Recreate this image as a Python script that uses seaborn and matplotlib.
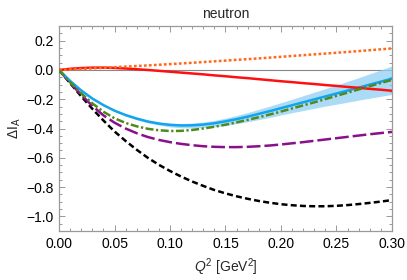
import numpy as np
import pandas as pd
import matplotlib
matplotlib.use("Agg")
import matplotlib.pyplot as plt
import seaborn as sns
from matplotlib.ticker import MultipleLocator

q2 = [0.00, 0.01, 0.02, 0.03, 0.04, 0.05, 0.06, 0.07, 0.08, 0.09, 0.10,
      0.11, 0.12, 0.13, 0.14, 0.15, 0.16, 0.17, 0.18, 0.19, 0.20,
      0.21, 0.22, 0.23, 0.24, 0.25, 0.26, 0.27, 0.28, 0.29, 0.30]

orange_dotted = [0.0, 0.0035, 0.007, 0.011, 0.015, 0.019, 0.023, 0.027, 0.031, 0.0355, 0.040,
                 0.0445, 0.049, 0.054, 0.059, 0.064, 0.069, 0.074, 0.079, 0.0845, 0.090,
                 0.0955, 0.101, 0.1065, 0.112, 0.1175, 0.123, 0.129, 0.135, 0.141, 0.147]
red_solid = [0.0, 0.008, 0.013, 0.016, 0.016, 0.014, 0.010, 0.005, 0.0, -0.006, -0.012,
             -0.018, -0.024, -0.030, -0.037, -0.043, -0.050, -0.056, -0.063, -0.070, -0.077,
             -0.083, -0.090, -0.096, -0.103, -0.109, -0.116, -0.122, -0.129, -0.135, -0.142]
blue_solid = [0.0, -0.075, -0.14, -0.195, -0.24, -0.278, -0.308, -0.332, -0.352, -0.366, -0.375,
              -0.379, -0.378, -0.373, -0.364, -0.351, -0.336, -0.319, -0.300, -0.281, -0.261,
              -0.241, -0.221, -0.201, -0.181, -0.161, -0.141, -0.121, -0.100, -0.080, -0.059]
blue_upper = [0.0, -0.074, -0.138, -0.192, -0.236, -0.273, -0.302, -0.325, -0.344, -0.357, -0.364,
              -0.366, -0.363, -0.356, -0.345, -0.329, -0.311, -0.291, -0.269, -0.247, -0.224,
              -0.200, -0.176, -0.152, -0.128, -0.103, -0.078, -0.053, -0.026, 0.000, 0.027]
blue_lower = [0.0, -0.076, -0.1425, -0.199, -0.245, -0.284, -0.3155, -0.341, -0.362, -0.377, -0.389,
              -0.395, -0.397, -0.394, -0.388, -0.379, -0.367, -0.354, -0.339, -0.324, -0.307,
              -0.292, -0.277, -0.262, -0.247, -0.234, -0.220, -0.206, -0.193, -0.180, -0.167]
green_dashdot = [0.0, -0.085, -0.16, -0.228, -0.285, -0.33, -0.362, -0.385, -0.402, -0.412, -0.417,
                 -0.416, -0.410, -0.400, -0.388, -0.374, -0.358, -0.341, -0.323, -0.304, -0.284,
                 -0.263, -0.242, -0.221, -0.199, -0.177, -0.155, -0.133, -0.111, -0.089, -0.068]
purple_longdash = [0.0, -0.088, -0.17, -0.245, -0.31, -0.36, -0.40, -0.432, -0.458, -0.478, -0.493,
                   -0.505, -0.514, -0.521, -0.525, -0.527, -0.527, -0.525, -0.521, -0.516, -0.509,
                   -0.501, -0.493, -0.484, -0.475, -0.466, -0.457, -0.448, -0.439, -0.431, -0.423]
black_dashed = [0.0, -0.09, -0.18, -0.265, -0.345, -0.42, -0.485, -0.545, -0.60, -0.648, -0.69,
                -0.728, -0.762, -0.792, -0.82, -0.843, -0.863, -0.88, -0.895, -0.907, -0.917,
                -0.924, -0.929, -0.931, -0.931, -0.928, -0.923, -0.916, -0.908, -0.899, -0.889]

x_ticks = [0.00, 0.05, 0.10, 0.15, 0.20, 0.25, 0.30]
y_ticks = [-1.0, -0.8, -0.6, -0.4, -0.2, 0.0, 0.2]

sns.set_style("ticks")
plt.rcParams['font.family'] = ['Liberation Sans', 'DejaVu Sans']
plt.rcParams['mathtext.fontset'] = 'custom'
plt.rcParams['mathtext.rm'] = 'Liberation Sans'
plt.rcParams['mathtext.it'] = 'Liberation Sans:italic'

df = pd.DataFrame({
    "q2": q2, "orange": orange_dotted, "red": red_solid, "blue": blue_solid,
    "lo": blue_lower, "hi": blue_upper, "green": green_dashdot,
    "purple": purple_longdash, "black": black_dashed,
})

fig = plt.figure(figsize=(4.07, 2.80), dpi=100)
ax = fig.add_axes([0.145, 0.175, 0.818, 0.732])

ax.axhline(0, color="#888888", lw=0.8, zorder=1)
ax.fill_between(df["q2"], df["lo"], df["hi"], color="#8fd0f5", alpha=0.75, lw=0, zorder=2)

lw = 1.8
sns.lineplot(data=df, x="q2", y="black", ax=ax, color="black", lw=lw, zorder=3)
ax.lines[-1].set_dashes([2.4, 1.3])
sns.lineplot(data=df, x="q2", y="purple", ax=ax, color="#8a0f8a", lw=lw, zorder=3)
ax.lines[-1].set_dashes([5.5, 1.6])
sns.lineplot(data=df, x="q2", y="blue", ax=ax, color="#12a4ee", lw=lw, zorder=4)
sns.lineplot(data=df, x="q2", y="green", ax=ax, color="#4f8a1b", lw=lw, zorder=5)
ax.lines[-1].set_dashes([3.2, 1.0, 0.9, 1.0])
sns.lineplot(data=df, x="q2", y="red", ax=ax, color="#ff1010", lw=lw, zorder=4)
sns.lineplot(data=df, x="q2", y="orange", ax=ax, color="#ff6a1a", lw=lw, zorder=4)
ax.lines[-1].set_dashes([1.1, 0.9])

ax.set_xlim(0, 0.30)
ax.set_ylim(-1.1, 0.3)
ax.set_xticks(x_ticks)
ax.set_xticklabels([f"{v:.2f}" for v in x_ticks])
ax.set_yticks(y_ticks)
ax.set_yticklabels([f"{v:.1f}".replace("-", "\u2212") for v in y_ticks])
ax.xaxis.set_minor_locator(MultipleLocator(0.01))
ax.yaxis.set_minor_locator(MultipleLocator(0.05))
ax.tick_params(which="both", direction="in", top=True, right=True, colors="#999999",
               labelcolor="black", labelsize=10, width=0.7)
ax.tick_params(which="major", length=4, pad=4)
ax.tick_params(which="minor", length=2)
for s in ax.spines.values():
    s.set_color("#999999")
    s.set_linewidth(0.9)

ax.set_xlabel("$Q^2$ [GeV$^2$]", fontsize=10, labelpad=4)
ax.set_ylabel(r"$\Delta\mathrm{I}_\mathrm{A}$", fontsize=10, labelpad=2)
ax.set_title("neutron", fontsize=10, pad=6)

fig.savefig("out.png", dpi=100)
